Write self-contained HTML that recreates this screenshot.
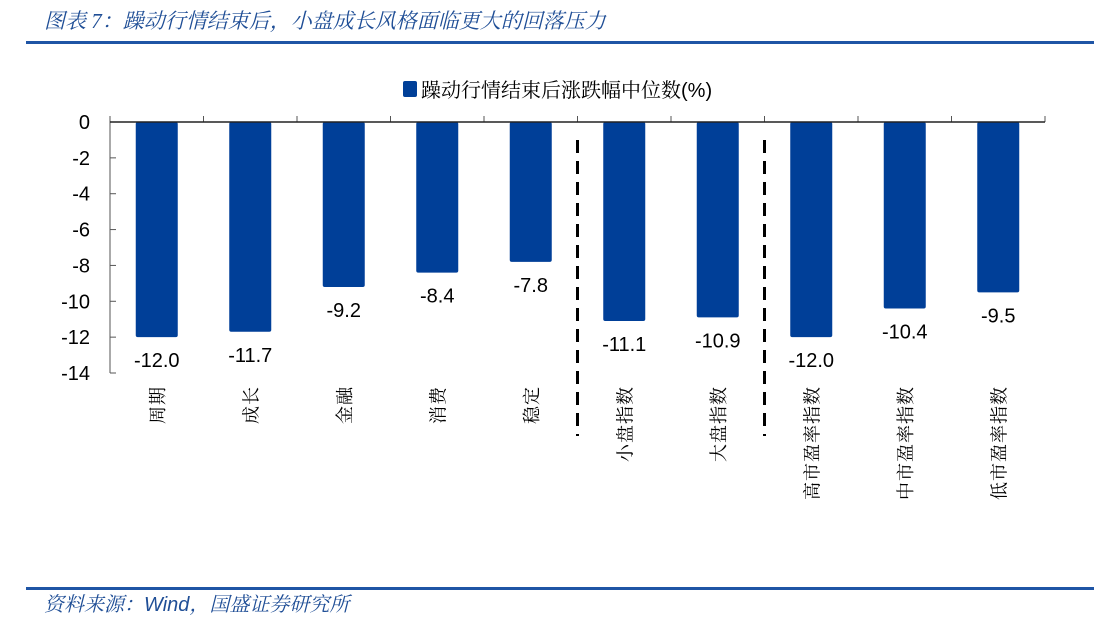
<!DOCTYPE html>
<html><head><meta charset="utf-8"><style>
body{margin:0;background:#fff;width:1108px;height:630px;overflow:hidden;font-family:"Liberation Sans","Noto Sans CJK SC",sans-serif}
</style></head><body>
<svg width="1108" height="630" xmlns="http://www.w3.org/2000/svg">
<text x="44" y="28" font-size="21" fill="#1f4e96" font-style="italic" font-family="Liberation Serif,Noto Serif CJK SC,serif">图表 7：躁动行情结束后，小盘成长风格面临更大的回落压力</text>
<rect x="26" y="41" width="1068" height="3" fill="#1f55a5"/>
<rect x="403" y="81" width="14" height="16" rx="2" fill="#003f98"/>
<text x="421" y="97" font-size="20" fill="#000" font-family="Liberation Sans,Noto Serif CJK SC,serif">躁动行情结束后涨跌幅中位数(%)</text>
<g id="plot"></g>
<rect x="26" y="587" width="1068" height="3" fill="#1f55a5"/>
<text x="44" y="611" font-size="20" fill="#1f4e96" font-style="italic" font-family="Liberation Sans,Noto Serif CJK SC,serif">资料来源：Wind，国盛证券研究所</text>
</svg>
<script>
const categories=["周期","成长","金融","消费","稳定","小盘指数","大盘指数","高市盈率指数","中市盈率指数","低市盈率指数"];
const values=[-12.0,-11.7,-9.2,-8.4,-7.8,-11.1,-10.9,-12.0,-10.4,-9.5];
const yTicks=[0,-2,-4,-6,-8,-10,-12,-14];
const dividerAfter=[5,7];
const NS="http://www.w3.org/2000/svg";
const g=document.getElementById('plot');
const x0=110,x1=1045,y0=122,yPerUnit=251/14;
const bw=(x1-x0)/categories.length;
const Y=v=>y0-v*yPerUnit;
const X=i=>x0+bw*i;
function mk(t,a){const e=document.createElementNS(NS,t);for(const k in a)e.setAttribute(k,a[k]);g.appendChild(e);return e;}
let e=mk('line',{x1:x0,y1:Y(0),x2:x0,y2:Y(-14),stroke:'#555','stroke-width':1});


yTicks.forEach(t=>{
  let l=mk('line',{x1:x0,y1:Y(t),x2:x0+6,y2:Y(t),stroke:'#555'});
  
  
  let tx=mk('text',{x:90,y:Y(t)+7,'font-size':20,'text-anchor':'end',fill:'#000'});
  tx.textContent=t;
  
  
});
values.forEach((v,i)=>{
  const cx=X(i)+bw/2;
  let r=mk('rect',{x:cx-21,y:Y(0),width:42,height:Y(v)-Y(0),rx:2,fill:'#003f98'});
  
  
  let t=mk('text',{x:cx,y:Y(v)+30,'font-size':20,'text-anchor':'middle',fill:'#000'});
  t.textContent=v.toFixed(1);
  
  
  let c=mk('text',{x:0,y:0,'font-size':18,'text-anchor':'end',fill:'#000','font-family':'Noto Serif CJK SC,serif',transform:`translate(${cx+7},386) rotate(-90)`,'letter-spacing':'1'});
  c.textContent=categories[i];
  
  
});
for(let i=0;i<=categories.length;i++){
  let l=mk('line',{x1:X(i),y1:Y(0),x2:X(i),y2:Y(0)-6,stroke:'#555'});
  
  
}
e=mk('line',{x1:x0,y1:Y(0),x2:x1,y2:Y(0),stroke:'#222','stroke-width':1.5});


dividerAfter.forEach(k=>{
  let l=mk('line',{x1:X(k),y1:140,x2:X(k),y2:436,stroke:'#000','stroke-width':3,'stroke-dasharray':'13,8'});
  
  
});
</script>
</body></html>
